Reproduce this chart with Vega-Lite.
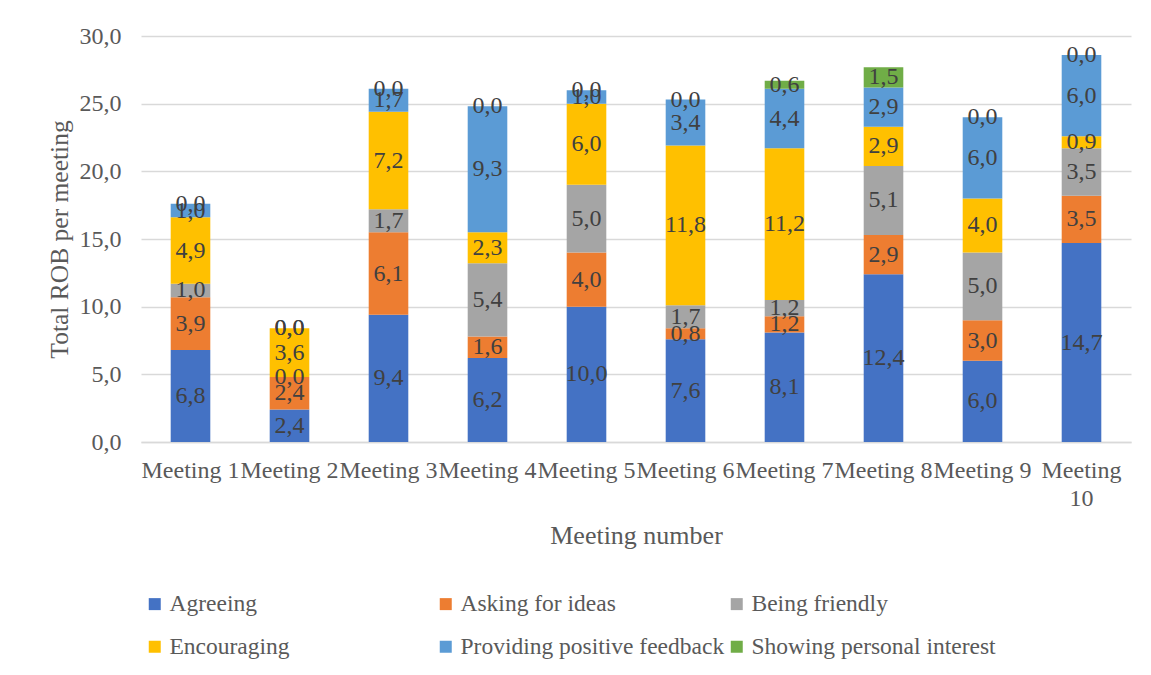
{
  "$schema": "https://vega.github.io/schema/vega-lite/v6.json",
  "autosize": "none",
  "width": 990,
  "height": 406,
  "padding": {"left": 141, "top": 36, "right": 20, "bottom": 233},
  "background": "white",
  "config": {
    "locale": {"number": {"decimal": ",", "thousands": " ", "grouping": [3], "currency": ["", " €"]}},
    "view": {"stroke": null},
    "font": "Liberation Serif"
  },
  "datasets": {
    "rob": [
      {"meeting": "Meeting 1", "behavior": "Agreeing", "value": 6.8},
      {"meeting": "Meeting 1", "behavior": "Asking for ideas", "value": 3.9},
      {"meeting": "Meeting 1", "behavior": "Being friendly", "value": 1.0},
      {"meeting": "Meeting 1", "behavior": "Encouraging", "value": 4.9},
      {"meeting": "Meeting 1", "behavior": "Providing positive feedback", "value": 1.0},
      {"meeting": "Meeting 1", "behavior": "Showing personal interest", "value": 0.0},
      {"meeting": "Meeting 2", "behavior": "Agreeing", "value": 2.4},
      {"meeting": "Meeting 2", "behavior": "Asking for ideas", "value": 2.4},
      {"meeting": "Meeting 2", "behavior": "Being friendly", "value": 0.0},
      {"meeting": "Meeting 2", "behavior": "Encouraging", "value": 3.6},
      {"meeting": "Meeting 2", "behavior": "Providing positive feedback", "value": 0.0},
      {"meeting": "Meeting 2", "behavior": "Showing personal interest", "value": 0.0},
      {"meeting": "Meeting 3", "behavior": "Agreeing", "value": 9.4},
      {"meeting": "Meeting 3", "behavior": "Asking for ideas", "value": 6.1},
      {"meeting": "Meeting 3", "behavior": "Being friendly", "value": 1.7},
      {"meeting": "Meeting 3", "behavior": "Encouraging", "value": 7.2},
      {"meeting": "Meeting 3", "behavior": "Providing positive feedback", "value": 1.7},
      {"meeting": "Meeting 3", "behavior": "Showing personal interest", "value": 0.0},
      {"meeting": "Meeting 4", "behavior": "Agreeing", "value": 6.2},
      {"meeting": "Meeting 4", "behavior": "Asking for ideas", "value": 1.6},
      {"meeting": "Meeting 4", "behavior": "Being friendly", "value": 5.4},
      {"meeting": "Meeting 4", "behavior": "Encouraging", "value": 2.3},
      {"meeting": "Meeting 4", "behavior": "Providing positive feedback", "value": 9.3},
      {"meeting": "Meeting 4", "behavior": "Showing personal interest", "value": 0.0},
      {"meeting": "Meeting 5", "behavior": "Agreeing", "value": 10.0},
      {"meeting": "Meeting 5", "behavior": "Asking for ideas", "value": 4.0},
      {"meeting": "Meeting 5", "behavior": "Being friendly", "value": 5.0},
      {"meeting": "Meeting 5", "behavior": "Encouraging", "value": 6.0},
      {"meeting": "Meeting 5", "behavior": "Providing positive feedback", "value": 1.0},
      {"meeting": "Meeting 5", "behavior": "Showing personal interest", "value": 0.0},
      {"meeting": "Meeting 6", "behavior": "Agreeing", "value": 7.6},
      {"meeting": "Meeting 6", "behavior": "Asking for ideas", "value": 0.8},
      {"meeting": "Meeting 6", "behavior": "Being friendly", "value": 1.7},
      {"meeting": "Meeting 6", "behavior": "Encouraging", "value": 11.8},
      {"meeting": "Meeting 6", "behavior": "Providing positive feedback", "value": 3.4},
      {"meeting": "Meeting 6", "behavior": "Showing personal interest", "value": 0.0},
      {"meeting": "Meeting 7", "behavior": "Agreeing", "value": 8.1},
      {"meeting": "Meeting 7", "behavior": "Asking for ideas", "value": 1.2},
      {"meeting": "Meeting 7", "behavior": "Being friendly", "value": 1.2},
      {"meeting": "Meeting 7", "behavior": "Encouraging", "value": 11.2},
      {"meeting": "Meeting 7", "behavior": "Providing positive feedback", "value": 4.4},
      {"meeting": "Meeting 7", "behavior": "Showing personal interest", "value": 0.6},
      {"meeting": "Meeting 8", "behavior": "Agreeing", "value": 12.4},
      {"meeting": "Meeting 8", "behavior": "Asking for ideas", "value": 2.9},
      {"meeting": "Meeting 8", "behavior": "Being friendly", "value": 5.1},
      {"meeting": "Meeting 8", "behavior": "Encouraging", "value": 2.9},
      {"meeting": "Meeting 8", "behavior": "Providing positive feedback", "value": 2.9},
      {"meeting": "Meeting 8", "behavior": "Showing personal interest", "value": 1.5},
      {"meeting": "Meeting 9", "behavior": "Agreeing", "value": 6.0},
      {"meeting": "Meeting 9", "behavior": "Asking for ideas", "value": 3.0},
      {"meeting": "Meeting 9", "behavior": "Being friendly", "value": 5.0},
      {"meeting": "Meeting 9", "behavior": "Encouraging", "value": 4.0},
      {"meeting": "Meeting 9", "behavior": "Providing positive feedback", "value": 6.0},
      {"meeting": "Meeting 9", "behavior": "Showing personal interest", "value": 0.0},
      {"meeting": "Meeting 10", "behavior": "Agreeing", "value": 14.7},
      {"meeting": "Meeting 10", "behavior": "Asking for ideas", "value": 3.5},
      {"meeting": "Meeting 10", "behavior": "Being friendly", "value": 3.5},
      {"meeting": "Meeting 10", "behavior": "Encouraging", "value": 0.9},
      {"meeting": "Meeting 10", "behavior": "Providing positive feedback", "value": 6.0},
      {"meeting": "Meeting 10", "behavior": "Showing personal interest", "value": 0.0}
    ]
  },
  "data": {"name": "rob"},
  "transform": [
    {"stack": "value", "groupby": ["meeting"], "sort": [{"field": "behavior", "order": "ascending"}], "as": ["lo", "hi"]},
    {"calculate": "(datum.lo + datum.hi) / 2", "as": "mid"}
  ],
  "encoding": {
    "x": {
      "field": "meeting",
      "type": "nominal",
      "sort": null,
      "scale": {"paddingInner": 0.6, "paddingOuter": 0.3},
      "axis": {
        "title": "Meeting number",
        "titleFont": "Liberation Serif",
        "titleFontSize": 26,
        "titleFontWeight": "normal",
        "titleColor": "#595959",
        "titlePadding": 12,
        "labelFont": "Liberation Serif",
        "labelFontSize": 24,
        "labelColor": "#595959",
        "labelAngle": 0,
        "labelPadding": 16,
        "labelOverlap": false,
        "labelBound": false,
        "labelLimit": 0,
        "labelLineHeight": 28,
        "labelExpr": "datum.label == 'Meeting 10' ? ['Meeting', '10'] : datum.label",
        "ticks": false,
        "domainColor": "#D9D9D9",
        "domainWidth": 1.3
      }
    }
  },
  "layer": [
    {
      "mark": {"type": "bar"},
      "encoding": {
        "y": {
          "field": "hi",
          "type": "quantitative",
          "scale": {"domain": [0, 30], "nice": false},
          "axis": {
            "title": "Total ROB per meeting",
            "titleFont": "Liberation Serif",
            "titleFontSize": 25.5,
            "titleFontWeight": "normal",
            "titleColor": "#595959",
            "titlePadding": 7,
            "labelFont": "Liberation Serif",
            "labelFontSize": 24,
            "labelColor": "#595959",
            "labelPadding": 20,
            "values": [0, 5, 10, 15, 20, 25, 30],
            "format": ".1f",
            "ticks": false,
            "domain": false,
            "gridColor": "#D9D9D9",
            "gridWidth": 1.3
          }
        },
        "y2": {"field": "lo"},
        "color": {
          "field": "behavior",
          "type": "nominal",
          "scale": {
            "domain": ["Agreeing", "Asking for ideas", "Being friendly", "Encouraging", "Providing positive feedback", "Showing personal interest"],
            "range": ["#4472C4", "#ED7D31", "#A5A5A5", "#FFC000", "#5B9BD5", "#70AD47"]
          },
          "legend": {
            "title": null,
            "orient": "none",
            "legendX": 2,
            "legendY": 556,
            "direction": "horizontal",
            "columns": 3,
            "gridAlign": "all",
            "columnPadding": -8,
            "rowPadding": 18,
            "padding": 0,
            "symbolType": "square",
            "symbolSize": 144,
            "symbolStrokeWidth": 0,
            "symbolOpacity": 1,
            "labelFont": "Liberation Serif",
            "labelFontSize": 23.5,
            "labelColor": "#595959",
            "labelOffset": 3,
            "labelLimit": 0
          }
        }
      }
    },
    {
      "mark": {"type": "text", "font": "Liberation Serif", "fontSize": 24, "color": "#404040", "baseline": "middle"},
      "encoding": {
        "y": {"field": "mid", "type": "quantitative"},
        "text": {"field": "value", "type": "quantitative", "format": ".1f"}
      }
    }
  ]
}
